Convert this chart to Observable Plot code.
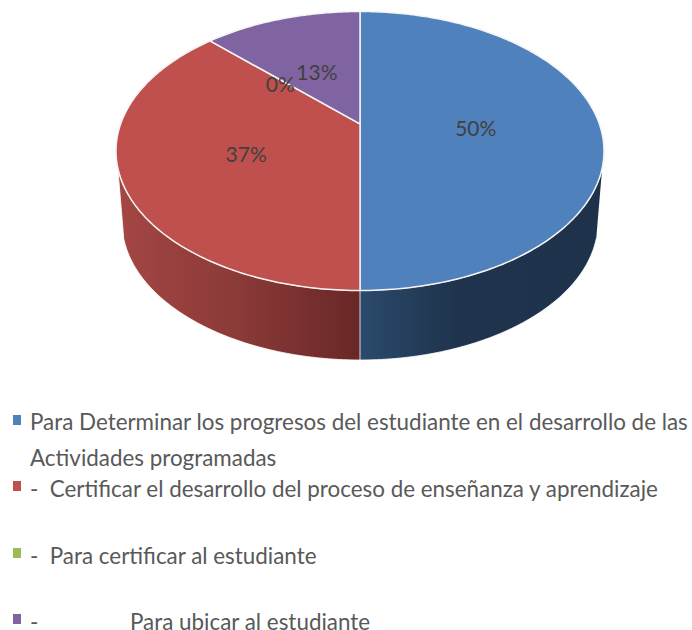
<!DOCTYPE html>
<html>
<head>
<meta charset="utf-8">
<script src="https://cdn.jsdelivr.net/npm/d3@7"></script>
<script src="https://cdn.jsdelivr.net/npm/@observablehq/plot@0.6"></script>
<style>
html,body{margin:0;padding:0;background:#fff}
#chart svg{display:block}
#legend{position:relative;width:692px;height:250px;font-family:Lato,sans-serif;font-size:22.4px;color:#595959}
#legend .row{position:absolute;left:30px;white-space:pre;line-height:16px}
#legend .sw{position:absolute;left:13px;width:8px;height:10px}
</style>
</head>
<body>
<div id="chart"></div>
<div id="legend"></div>
<script>
const categories = ["Determinar", "Certificar desarrollo", "Certificar estudiante", "Ubicar"];
const shares = [50, 37.4, 0, 12.6];
const colors = ["#4f81bd", "#c0504d", "#9bbb59", "#8064a2"];
const legendRows = [
  {text: "Para Determinar los progresos del estudiante en el desarrollo de las", color: colors[0]},
  {text: "Actividades programadas", color: null},
  {text: "-  Certificar el desarrollo del proceso de enseñanza y aprendizaje", color: colors[1]},
  {text: "-  Para certificar al estudiante", color: colors[2]},
  {text: "-                Para ubicar al estudiante", color: colors[3]}
];
const rowCenters = [422, 458, 489, 556, 622];
const swatchCenters = [420, null, 486, 553, 619];

// Layout of the tilted disc
const W = 692, H = 380;
const cx = 359.5, cy = 150.5, rx = 244, ry = 139.5;
const k = 0.194;                 // perspective shift of the disc centre
const wallScale = 238 / 244;     // bottom rim is a little narrower
const wallDrop = 71 / 139.5;     // bottom rim centre offset, in radii
const wallRy = 138 / 139.5;
const wallStart = 7;             // degrees below the widest point where the wall starts

function project(theta, r) {
  const u = r * Math.sin(theta), v = r * Math.cos(theta);
  const d = 1 + k * v;
  return {x: u * Math.sqrt(1 - k * k) / d, y: (v + k) / d};
}

const rad = Math.PI / 180;
let acc = 0;
const slices = [], labels = [];
categories.forEach((name, i) => {
  const a0 = acc / 100 * 2 * Math.PI;
  acc += shares[i];
  const a1 = acc / 100 * 2 * Math.PI;
  const n = Math.max(2, Math.ceil(shares[i] * 4));
  slices.push({name, ...project(0, 0)});
  for (let j = 0; j <= n; j++) {
    slices.push({name, ...project(a0 + (a1 - a0) * j / n, 1)});
  }
  slices.push({name, ...project(0, 0)});
  const mid = project((a0 + a1) / 2, 0.49);
  labels.push({...mid, text: `${Math.round(shares[i])}%`});
});

function wall(from, to) {
  const top = [], bottom = [];
  for (let a = from; a <= to + 1e-9; a += 1) {
    const t = a * rad;
    top.push({x: Math.cos(t), y: -Math.sin(t)});
  }
  for (let a = to; a >= from - 1e-9; a -= 1) {
    const t = a * rad;
    bottom.push({x: wallScale * Math.cos(t), y: -wallDrop - wallRy * Math.sin(t)});
  }
  return top.concat(bottom);
}
const wallRight = wall(wallStart, 90);
const wallLeft = wall(90, 180 - wallStart);

const defs = () => {
  const d = d3.create("svg:defs");
  const grad = (id, stops) => {
    const g = d.append("linearGradient").attr("id", id).attr("x1", 0).attr("x2", 1).attr("y1", 0).attr("y2", 0);
    stops.forEach(([o, c]) => g.append("stop").attr("offset", o).attr("stop-color", c));
  };
  grad("wallBlue", [[0, "#2b4a6c"], [0.4, "#1f334c"], [1, "#1e334b"]]);
  grad("wallRed", [[0, "#a44644"], [0.5, "#8a3a38"], [1, "#692726"]]);
  return d.node();
};

const plot = Plot.plot({
  width: W, height: H, margin: 0,
  x: {domain: [-cx / rx, (W - cx) / rx], range: [0, W], axis: null},
  y: {domain: [(cy - H) / ry, cy / ry], range: [H, 0], axis: null},
  color: {domain: categories, range: colors},
  marks: [
    defs,
    Plot.line(wallLeft, {x: "x", y: "y", fill: "url(#wallRed)", stroke: "white", strokeWidth: 0.8}),
    Plot.line(wallRight, {x: "x", y: "y", fill: "url(#wallBlue)", stroke: "white", strokeWidth: 0.8}),
    Plot.line(slices, {x: "x", y: "y", z: "name", fill: "name", stroke: "#f4f4f4", strokeWidth: 1.5, strokeLinejoin: "round"}),
    Plot.text(labels, {x: "x", y: "y", text: "text", dx: -1.5, dy: 5, fontSize: 21, fontFamily: "Lato, sans-serif", fill: "#404040"})
  ]
});
document.getElementById("chart").append(plot);

const legend = d3.select("#legend");
legendRows.forEach((r, i) => {
  legend.append("div").attr("class", "row").style("top", `${rowCenters[i] - H - 8}px`).text(r.text);
  if (r.color) legend.append("div").attr("class", "sw").style("top", `${swatchCenters[i] - H - 5}px`).style("background", r.color);
});
</script>
</body>
</html>
